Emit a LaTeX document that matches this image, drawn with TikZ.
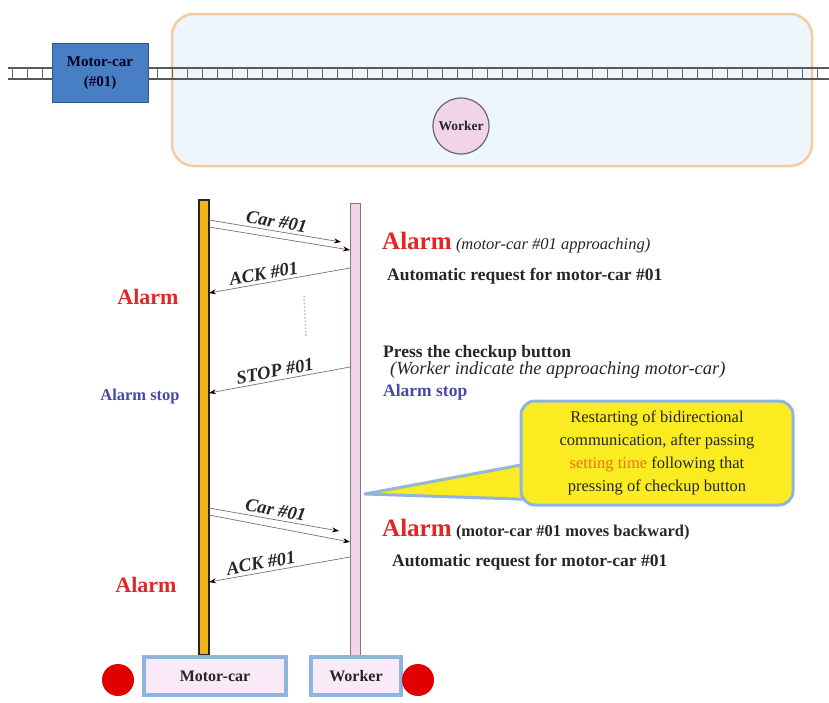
\documentclass[tikz,border=0pt]{standalone}
\usepackage{fontspec}
\setmainfont{Liberation Serif}
\usetikzlibrary{arrows.meta}

\definecolor{alarmred}{RGB}{226,38,38}
\definecolor{stopblue}{RGB}{72,72,168}
\definecolor{txtgray}{RGB}{38,38,38}
\definecolor{carblue}{RGB}{72,126,196}
\definecolor{zonefill}{RGB}{236,246,252}
\definecolor{zoneedge}{RGB}{246,204,158}
\definecolor{lifegold}{RGB}{238,180,24}
\definecolor{lifepink}{RGB}{242,212,234}
\definecolor{glowblue}{RGB}{142,180,224}
\definecolor{boxpink}{RGB}{250,234,247}
\definecolor{noteyellow}{RGB}{250,236,32}
\definecolor{settime}{RGB}{250,110,20}

\tikzset{
  zone/.style={draw=zoneedge, line width=2.5pt, fill=zonefill, rounded corners=22pt,
    minimum width=640pt, minimum height=152pt},
  rail/.style={draw=black!65, line width=1.3pt},
  tie/.style={draw=black!60, line width=1pt},
  carbox/.style={draw=carblue!70!black, line width=1pt, fill=carblue, minimum width=96pt,
    minimum height=59pt, align=center, text=black!85!blue,
    font=\bfseries\fontsize{15}{20}\selectfont},
  person/.style={circle, draw=black!60, line width=1.2pt, fill=lifepink, minimum size=56pt,
    inner sep=0pt, font=\bfseries\fontsize{13.5}{13.5}\selectfont, text=txtgray},
  lifecar/.style={draw=black!85, line width=1.3pt, fill=lifegold, minimum width=10pt,
    minimum height=455pt, inner sep=0pt},
  lifewk/.style={draw=black!45!lifepink, line width=1pt, fill=lifepink, minimum width=10pt,
    minimum height=452pt, inner sep=0pt},
  tagbox/.style={draw=glowblue, line width=3.5pt, fill=boxpink, minimum width=142pt,
    minimum height=38pt, font=\bfseries\fontsize{16}{16}\selectfont, text=txtgray},
  lamp/.style={circle, fill=red!88!black, minimum size=32pt, inner sep=0pt},
  msg/.style={draw=black!55, line width=0.7pt, -{Stealth[length=7pt,width=5pt,black]}},
  msglabel/.style={sloped, above, inner sep=3pt, text=txtgray,
    font=\bfseries\itshape\fontsize{18.5}{18.5}\selectfont},
  alarm/.style={anchor=base, text=alarmred, font=\bfseries\fontsize{22}{22}\selectfont},
  remark/.style={anchor=base west, inner sep=0pt, text=txtgray,
    font=\bfseries\fontsize{17.5}{17.5}\selectfont},
  hint/.style={draw=glowblue, line width=3pt, fill=noteyellow, rounded corners=14pt,
    minimum width=272pt, minimum height=104pt, align=center, text=txtgray,
    font=\fontsize{16.5}{23}\selectfont}
}

\begin{document}
\begin{tikzpicture}[x=1pt,y=-1pt]
  \useasboundingbox (0,0) rectangle (829,702);

  % Gleisbereich mit Schienen
  \node[zone] (zone) at (492,90) {};
  \draw[rail] (8,68) -- (829,68);
  \draw[rail] (8,79) -- (829,79);
  \foreach \x in {12,27,42} \draw[tie] (\x,68) -- (\x,79);
  \foreach \x in {157,172,...,826} \draw[tie] (\x,68) -- (\x,79);
  \node[carbox] (car) at (100,73) {Motor-car\\(\#01)};
  \node[person] (wk) at (461,126) {Worker};

  % Lebenslinien
  \node[lifecar] (lc) at (204,427.5) {};
  \node[lifewk] (lw) at (355,429) {};
  \node[tagbox] (tc) at (215,676) {Motor-car};
  \node[tagbox, minimum width=90pt] (tw) at (356,676) {Worker};
  \node[lamp] (lamp1) at (118,680) {};
  \node[lamp] (lamp2) at (418,680) {};

  % Endpunkte der Nachrichten
  \coordinate (c1a) at (209,220);  \coordinate (w1a) at (341,242);
  \coordinate (c1b) at (209,227);  \coordinate (w1b) at (350,250);
  \coordinate (w2) at (350,268);   \coordinate (c2) at (209,293);
  \coordinate (w3) at (350,367);   \coordinate (c3) at (209,393);
  \coordinate (c4a) at (209,508);  \coordinate (w4a) at (339,531);
  \coordinate (c4b) at (209,515);  \coordinate (w4b) at (350,542);
  \coordinate (w5) at (350,557);   \coordinate (c5) at (209,582);

  % Nachrichten
  \draw[msg] (c1a) -- node[msglabel, pos=0.5] {Car \#01} (w1a);
  \draw[msg] (c1b) -- (w1b);
  \draw[msg] (w2) -- node[msglabel, pos=0.6] {ACK \#01} (c2);
  \draw[black!25, dotted, line width=1.5pt] (304,296) -- (306,336);
  \draw[msg] (w3) -- node[msglabel, pos=0.52] {STOP \#01} (c3);
  \draw[msg] (c4a) -- node[msglabel, pos=0.5] {Car \#01} (w4a);
  \draw[msg] (c4b) -- (w4b);
  \draw[msg] (w5) -- node[msglabel, pos=0.62] {ACK \#01} (c5);

  % linke Seite
  \node[alarm] (a1) at (148,304) {Alarm};
  \node[alarm, text=stopblue, font=\bfseries\fontsize{16.5}{16.5}\selectfont] (s1) at (140,400) {Alarm stop};
  \node[alarm] (a2) at (146,592) {Alarm};

  % rechte Seite
  \node[remark] (r1) at (382,249) {\textcolor{alarmred}{\fontsize{25}{25}\selectfont Alarm}
    {\mdseries\itshape\fontsize{16.5}{16.5}\selectfont (motor-car \#01 approaching)}};
  \node[remark] (r2) at (387,280) {Automatic request for motor-car \#01};
  \node[remark] (r3) at (383,357) {Press the checkup button};
  \node[remark, font=\itshape\fontsize{18.5}{18.5}\selectfont] (r4) at (390,374)
    {(Worker indicate the approaching motor-car)};
  \node[remark, text=stopblue] (r5) at (383,396) {Alarm stop};
  \node[remark] (r6) at (382,536) {\textcolor{alarmred}{\fontsize{25}{25}\selectfont Alarm}
    {\fontsize{16.5}{16.5}\selectfont (motor-car \#01 moves backward)}};
  \node[remark] (r7) at (392,566) {Automatic request for motor-car \#01};

  % Hinweis mit Spitze zur Lebenslinie
  \coordinate (tip) at (365,494);
  \coordinate (tailA) at (548,460);
  \coordinate (tailB) at (548,500);
  \draw[draw=glowblue, line width=3pt, fill=noteyellow, line join=round] (tip) -- (tailA) -- (tailB) -- cycle;
  \node[hint] (hint) at (657,453) {Restarting of bidirectional\\communication, after passing\\
    \textcolor{settime}{setting time} following that\\pressing of checkup button};
  \fill[noteyellow] (tip) ++(6,-1) -- (tailA) ++(6,3) -- ([xshift=6pt,yshift=-3pt]tailB) -- cycle;
\end{tikzpicture}
\end{document}
